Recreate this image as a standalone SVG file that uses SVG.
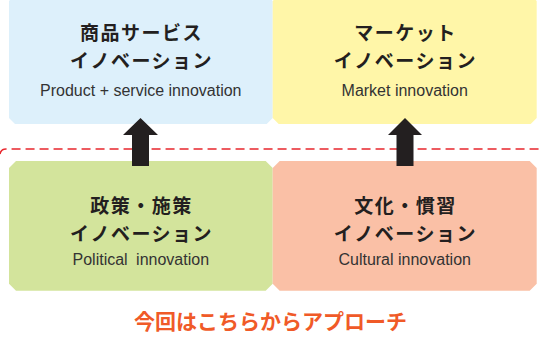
<svg xmlns="http://www.w3.org/2000/svg" width="540" height="348" viewBox="0 0 540 348">
<style>
.jp{font-family:"Noto Sans CJK JP","Noto Sans",sans-serif;font-weight:700;font-size:19px;letter-spacing:1.5px;fill:#231f20;text-anchor:middle}
.en{font-family:"Liberation Sans",Arial,sans-serif;font-size:16px;fill:#333;text-anchor:middle}
.arrow{fill:#231f20}
.cta{font-family:"Noto Sans CJK JP","Noto Sans",sans-serif;font-weight:700;font-size:21px;fill:#f05a28;text-anchor:middle}
</style>
<rect width="540" height="348" fill="#fff"/>
<g id="boundary">
<path d="M0,154 Q1,149 6,149 L540,149" fill="none" stroke="#e8262d" stroke-width="1.5" stroke-dasharray="9,5"/>
</g>
<g id="product-service">
<path d="M15,-5 H266.7 L272.7,1 V118 L266.7,124 H15 L9,118 V1 Z" fill="#ddf0fb"/>
<text class="jp" x="141.5" y="39.5">商品サービス</text>
<text class="jp" x="141.5" y="67.5">イノベーション</text>
<text class="en" x="140.8" y="96">Product + service innovation</text>
</g>
<g id="market">
<path d="M278.7,-5 H530.7 L536.7,1 V118 L530.7,124 H278.7 L272.7,118 V1 Z" fill="#fff6a8"/>
<text class="jp" x="405.4" y="39.5">マーケット</text>
<text class="jp" x="405.4" y="67.5">イノベーション</text>
<text class="en" x="404.7" y="96">Market innovation</text>
</g>
<g id="policy">
<path d="M16,161 H265.7 L272.7,168 V283.7 L265.7,290.7 H16 L9,283.7 V168 Z" fill="#d3e49c"/>
<text class="jp" x="141.5" y="212.5">政策・施策</text>
<text class="jp" x="141.5" y="240.5">イノベーション</text>
<text class="en" x="140.8" y="265" word-spacing="4">Political innovation</text>
</g>
<g id="culture">
<path d="M279.7,161 H529.7 L536.7,168 V283.7 L529.7,290.7 H279.7 L272.7,283.7 V168 Z" fill="#fac0a6"/>
<text class="jp" x="405.4" y="212.5">文化・慣習</text>
<text class="jp" x="405.4" y="240.5">イノベーション</text>
<text class="en" x="404.7" y="265">Cultural innovation</text>
</g>
<g id="connectors">
<polygon class="arrow" points="140.5,118 158,135 149,135 149,166 132,166 132,135 123,135"/>
<polygon class="arrow" points="405,118 422,135 413.5,135 413.5,166 396.5,166 396.5,135 388,135"/>
</g>
<g id="approach">
<text class="cta" x="270.5" y="329">今回はこちらからアプローチ</text>
</g>
</svg>
